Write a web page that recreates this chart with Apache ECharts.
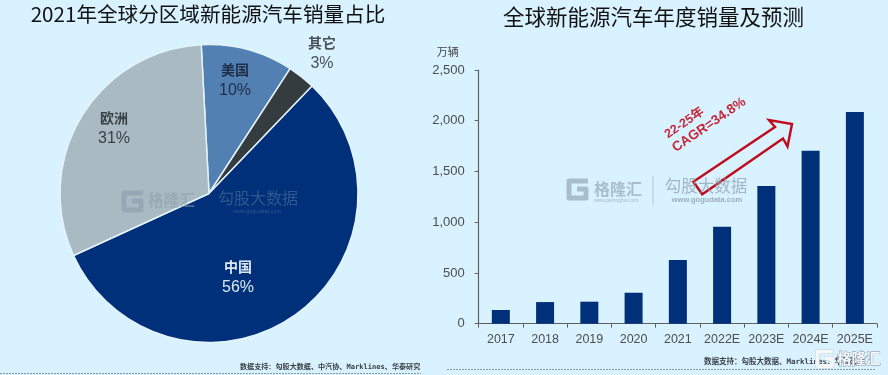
<!DOCTYPE html>
<html><head><meta charset="utf-8">
<script src="https://cdn.jsdelivr.net/npm/echarts@6/dist/echarts.min.js"></script>
<style>html,body{margin:0;padding:0;background:#d9f2ff}#c{width:888px;height:375px;filter:blur(0.7px)}</style>
</head><body><div id="c"></div>
<script>
const regions = ['美国','其它','中国','欧洲'];
const shares = [10,3,56,31];
const regionColors = ['#5280b3','#353c40','#00307a','#a9bac2'];
const labelColors = ['#1f2f48','#4a5257','#dbe7f2','#3a4248'];
const labelSpots = [[235,80],[322,53],[238,277],[114,128]];
const years = ['2017','2018','2019','2020','2021','2022E','2023E','2024E','2025E'];
const sales = [135,213,217,305,627,956,1357,1705,2086];
const yTicks = {min:0,max:2500,interval:500};
const cjk = '"Noto Sans CJK SC"';
const latin = '"Liberation Sans"';
const mono = '"DejaVu Sans Mono"';
function logoG(x,y,s,stroke,o,z){
  const pts=[[23,3],[4,3],[4,20],[21,20],[21,11],[12,11]].map(p=>[x+p[0]*s,y+p[1]*s]);
  return {type:'polyline',z:z,shape:{points:pts},style:{stroke:stroke,fill:'none',lineWidth:5*s,lineJoin:'round',opacity:o}};
}
const arrow = [[693.3,181.7],[702.3,194.3],[783,138.5],[787.5,146.5],[792,124],[769,120],[775,127]];
const graphic = [
 {type:'text',z:40,style:{x:208,y:14,text:'2021年全球分区域新能源汽车销量占比',font:'20.6px '+cjk,fill:'#111',align:'center',verticalAlign:'middle'}},
 {type:'text',z:40,style:{x:653.5,y:17,text:'全球新能源汽车年度销量及预测',font:'21.5px '+cjk,fill:'#111',align:'center',verticalAlign:'middle'}},
 logoG(120,190,1,'#8c9caa',.6,50),
 {type:'text',z:50,style:{x:148,y:200,text:'格隆汇',font:'bold 15.7px '+cjk,fill:'#8c9caa',opacity:.55,align:'left',verticalAlign:'middle'}},
 {type:'text',z:50,style:{x:258,y:198,text:'勾股大数据',font:'16px '+cjk,fill:'#5f7f9f',opacity:.5,align:'center',verticalAlign:'middle'}},
 {type:'text',z:50,style:{x:257,y:211,text:'www.gogudata.com',font:'5.5px '+latin,fill:'#5f7f9f',opacity:.5,align:'center',verticalAlign:'middle'}},
 logoG(565,178,1,'#8fa2b2',.65,50),
 {type:'text',z:50,style:{x:594,y:189,text:'格隆汇',font:'bold 16px '+cjk,fill:'#8fa2b2',opacity:.65,align:'left',verticalAlign:'middle'}},
 {type:'text',z:50,style:{x:594,y:200.5,text:'www.gelonghui.com',font:'5px '+latin,fill:'#8fa2b2',opacity:.7,align:'left',verticalAlign:'middle'}},
 {type:'line',z:50,shape:{x1:653,y1:176,x2:653,y2:205},style:{stroke:'#b4c8d4',lineWidth:1}},
 {type:'text',z:50,style:{x:706,y:186,text:'勾股大数据',font:'16.5px '+cjk,fill:'#8c9caa',opacity:.7,align:'center',verticalAlign:'middle'}},
 {type:'text',z:50,style:{x:707,y:200,text:'www.gogudata.com',font:'bold 7.5px '+latin,fill:'#8c9caa',opacity:.8,align:'center',verticalAlign:'middle'}},
 {type:'polygon',z:45,shape:{points:arrow},style:{fill:'none',stroke:'#c00d1e',lineWidth:2.5}},
 {type:'text',z:46,rotation:0.6,x:684.5,y:123,style:{x:0,y:0,text:'22-25年',font:'bold 12.5px '+latin+','+cjk,fill:'#c5283a',align:'center',verticalAlign:'middle'}},
 {type:'text',z:46,rotation:0.6,x:709,y:125,style:{x:0,y:0,text:'CAGR=34.8%',font:'bold 13.5px '+latin,fill:'#c5283a',align:'center',verticalAlign:'middle'}},
 {type:'text',z:40,style:{x:240,y:367,text:'数据支持：勾股大数据、中汽协、Marklines、华泰研究',font:'bold 7.1px '+mono+','+cjk,fill:'#3a3f45',align:'left',verticalAlign:'middle'}},
 {type:'text',z:40,style:{x:704,y:362,text:'数据支持：勾股大数据、Marklines、华泰研究',font:'bold 7.5px '+mono+','+cjk,fill:'#3a3f45',align:'left',verticalAlign:'middle'}},
 {type:'line',z:40,shape:{x1:0,y1:373.5,x2:421,y2:373.5},style:{stroke:'#8f9aa0',lineWidth:1,lineDash:[2,1]}},
 {type:'line',z:40,shape:{x1:447,y1:369.5,x2:875,y2:369.5},style:{stroke:'#8f9aa0',lineWidth:1,lineDash:[2,1]}},
 logoG(814,349,.85,'#8a96a0',1,59),
 logoG(814,349,.85,'#f4f7f9',1,60),
 {type:'text',z:60,style:{x:837,y:358,text:'格隆汇',font:'bold 14.5px '+cjk,fill:'#f4f7f9',stroke:'#7f8b95',lineWidth:.8,align:'left',verticalAlign:'middle'}}
];
const chart = echarts.init(document.getElementById('c'),null,{renderer:'canvas'});
chart.setOption({
 animation:false,
 backgroundColor:'#d9f2ff',
 grid:{left:478.7,right:11,top:70,height:253.7,containLabel:false},
 graphic:graphic,
 xAxis:{type:'category',data:years,
  axisLine:{lineStyle:{color:'#606060',width:1.2}},
  axisTick:{show:true,alignWithLabel:false,length:4,lineStyle:{color:'#606060'}},
  axisLabel:{color:'#4d4d4d',fontFamily:latin,fontSize:12.5,margin:9,interval:0}},
 yAxis:{type:'value',min:yTicks.min,max:yTicks.max,interval:yTicks.interval,
  name:'万辆',nameLocation:'end',nameGap:13,
  nameTextStyle:{color:'#444',fontFamily:cjk,fontSize:11,align:'right',padding:[0,20,0,0]},
  splitLine:{show:false},
  axisLine:{show:true,lineStyle:{color:'#606060',width:1.2}},
  axisTick:{show:true,length:4,lineStyle:{color:'#606060'}},
  axisLabel:{color:'#4d4d4d',fontFamily:latin,fontSize:13,margin:14,
   formatter:v=>v.toLocaleString('en-US')}},
 series:[
  {type:'pie',center:[209,193.5],radius:[0,149],startAngle:93,clockwise:true,
   percentPrecision:0,avoidLabelOverlap:false,
   data:regions.map((n,i)=>({name:n,value:shares[i],
     itemStyle:{color:regionColors[i]},
     label:{rich:{n:{color:labelColors[i],fontFamily:cjk,fontSize:14,lineHeight:21,fontWeight:'bold'},
                  p:{color:labelColors[i],fontFamily:latin,fontSize:16,lineHeight:21}}}})),
   itemStyle:{borderColor:'#e4f3fa',borderWidth:1.5},
   label:{show:true,position:'inside',formatter:'{n|{b}}\n{p|{d}%}',align:'center'},
   labelLine:{show:false},
   labelLayout:p=>{const s=labelSpots[p.dataIndex];return {x:s[0],y:s[1],align:'center',verticalAlign:'middle'};}
  },
  {type:'bar',data:sales,barWidth:18,itemStyle:{color:'#00307a'}}
 ]
});
</script></body></html>
